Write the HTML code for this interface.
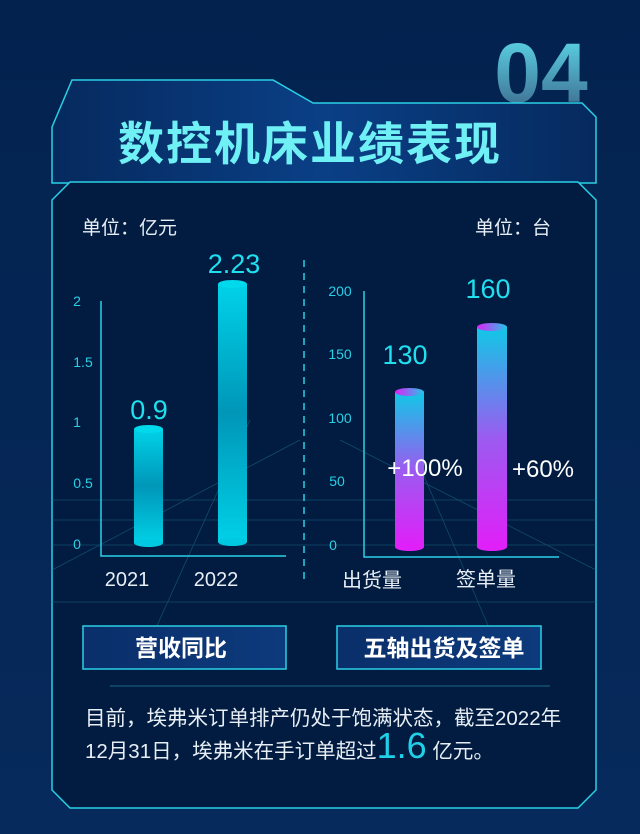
<!DOCTYPE html>
<html><head><meta charset="utf-8"><style>
html,body{margin:0;padding:0;background:#05234f}
svg{display:block}
text{font-family:"Liberation Sans","Noto Sans CJK SC",sans-serif}
</style></head><body>
<svg width="640" height="834" viewBox="0 0 640 834" xmlns="http://www.w3.org/2000/svg">
<defs>
<linearGradient id="bg" x1="0" y1="0" x2="0" y2="1"><stop offset="0" stop-color="#03224e"/><stop offset="1" stop-color="#062a5c"/></linearGradient>
<linearGradient id="num" x1="0" y1="0" x2="0" y2="1"><stop offset="0" stop-color="#5fe3f0"/><stop offset="1" stop-color="#3a5f86"/></linearGradient>
<linearGradient id="cyan" x1="0" y1="0" x2="0" y2="1"><stop offset="0" stop-color="#00d2e8"/><stop offset="0.5" stop-color="#0096b8"/><stop offset="1" stop-color="#00d0e6"/></linearGradient>
<linearGradient id="purp" x1="0" y1="0" x2="0" y2="1"><stop offset="0" stop-color="#10c8e6"/><stop offset="0.5" stop-color="#9a5cf0"/><stop offset="1" stop-color="#e020f8"/></linearGradient>
<linearGradient id="cap" x1="0" y1="0" x2="1" y2="0"><stop offset="0" stop-color="#e020f8"/><stop offset="1" stop-color="#20c8e8"/></linearGradient>
<linearGradient id="btn" x1="0" y1="0" x2="1" y2="0"><stop offset="0" stop-color="#0a2f6a"/><stop offset="1" stop-color="#0d3a7c"/></linearGradient>
<linearGradient id="hdr" x1="0" y1="0" x2="1" y2="0"><stop offset="0" stop-color="#062a5e"/><stop offset="0.5" stop-color="#0a3f86"/><stop offset="1" stop-color="#062a5e"/></linearGradient>
</defs>
<rect width="640" height="834" fill="url(#bg)"/>
<text x="541" y="102" text-anchor="middle" font-size="84" font-weight="bold" fill="url(#num)">04</text>
<polygon points="52,127 72,80 273,80 313,103 582,103 596,117 596,183 52,183" fill="url(#hdr)" stroke="#2ad0e6" stroke-width="1.5"/>
<text x="310" y="160" text-anchor="middle" font-size="46" font-weight="bold" fill="#6ff0f4" letter-spacing="2">数控机床业绩表现</text>
<polygon points="70,182 578,182 596,200 596,790 578,808 70,808 52,790 52,200" fill="#011c40" stroke="#2ad0e6" stroke-width="1.5"/>
<g stroke="#1d6a8a" stroke-width="0.8" opacity="0.6">
<line x1="52" y1="500" x2="596" y2="500"/><line x1="52" y1="520" x2="596" y2="520"/><line x1="52" y1="545" x2="596" y2="545"/><line x1="52" y1="602" x2="596" y2="602"/>
<line x1="300" y1="440" x2="52" y2="570"/><line x1="340" y1="440" x2="596" y2="570"/><line x1="250" y1="420" x2="155" y2="630"/><line x1="400" y1="420" x2="490" y2="630"/>
</g>
<text x="82" y="234" font-size="19" fill="#e8eef5">单位：亿元</text>
<text x="551" y="234" text-anchor="end" font-size="19" fill="#e8eef5">单位：台</text>
<line x1="304" y1="260" x2="304" y2="582" stroke="#2ad0e6" stroke-width="1.5" stroke-dasharray="7,6"/>
<g font-size="14" fill="#2ad0e6" text-anchor="middle">
<text x="77" y="306">2</text><text x="83" y="367">1.5</text><text x="77" y="427">1</text><text x="83" y="488">0.5</text><text x="77" y="549">0</text>
<text x="340" y="296">200</text><text x="340" y="359">150</text><text x="340" y="423">100</text><text x="337" y="486">50</text><text x="333" y="550">0</text>
</g>
<polyline points="101,301 101,556 286,556" fill="none" stroke="#2ad0e6" stroke-width="1.5"/>
<polyline points="364,291 364,557 559,557" fill="none" stroke="#2ad0e6" stroke-width="1.5"/>
<rect x="134" y="429" width="29" height="114" fill="url(#cyan)"/><ellipse cx="148.5" cy="543" rx="14.5" ry="4" fill="#00c8e0"/><ellipse cx="148.5" cy="429" rx="14.5" ry="4" fill="#00d8ec"/>
<rect x="218" y="284" width="29" height="258" fill="url(#cyan)"/><ellipse cx="232.5" cy="542" rx="14.5" ry="4" fill="#00c8e0"/><ellipse cx="232.5" cy="284" rx="14.5" ry="4" fill="#00d8ec"/>
<rect x="395" y="392" width="29" height="155" fill="url(#purp)"/><ellipse cx="409.5" cy="547" rx="14.5" ry="4" fill="#e020f8"/><ellipse cx="409.5" cy="392" rx="14.5" ry="4" fill="url(#cap)"/>
<rect x="477" y="327" width="30" height="220" fill="url(#purp)"/><ellipse cx="492" cy="547" rx="15" ry="4" fill="#e020f8"/><ellipse cx="492" cy="327" rx="15" ry="4" fill="url(#cap)"/>
<g font-size="27" fill="#20e0f0" text-anchor="middle">
<text x="149" y="419">0.9</text><text x="234" y="273">2.23</text><text x="405" y="364">130</text><text x="488" y="298">160</text>
</g>
<text x="425" y="476" text-anchor="middle" font-size="24" fill="#ffffff">+100%</text>
<text x="543" y="477" text-anchor="middle" font-size="24" fill="#ffffff">+60%</text>
<g font-size="20" fill="#e8eef5" text-anchor="middle">
<text x="127" y="586">2021</text><text x="216" y="586">2022</text><text x="372" y="587">出货量</text><text x="486" y="586">签单量</text>
</g>
<rect x="83" y="626" width="203" height="43" fill="url(#btn)" stroke="#2ad0e6" stroke-width="1.5"/>
<rect x="337" y="626" width="204" height="43" fill="url(#btn)" stroke="#2ad0e6" stroke-width="1.5"/>
<text x="181" y="656" text-anchor="middle" font-size="23" font-weight="bold" fill="#ffffff">营收同比</text>
<text x="444" y="656" text-anchor="middle" font-size="23" font-weight="bold" fill="#ffffff">五轴出货及签单</text>
<line x1="110" y1="686" x2="550" y2="686" stroke="#1d6a8a" stroke-width="1"/>
<text x="85" y="725" font-size="20.5" fill="#e8eef5">目前，埃弗米订单排产仍处于饱满状态，截至2022年</text>
<text x="85" y="758" font-size="20.5" fill="#e8eef5">12月31日，埃弗米在手订单超过<tspan font-size="36" fill="#20d0e8">1.6</tspan> 亿元。</text>
</svg>
</body></html>
